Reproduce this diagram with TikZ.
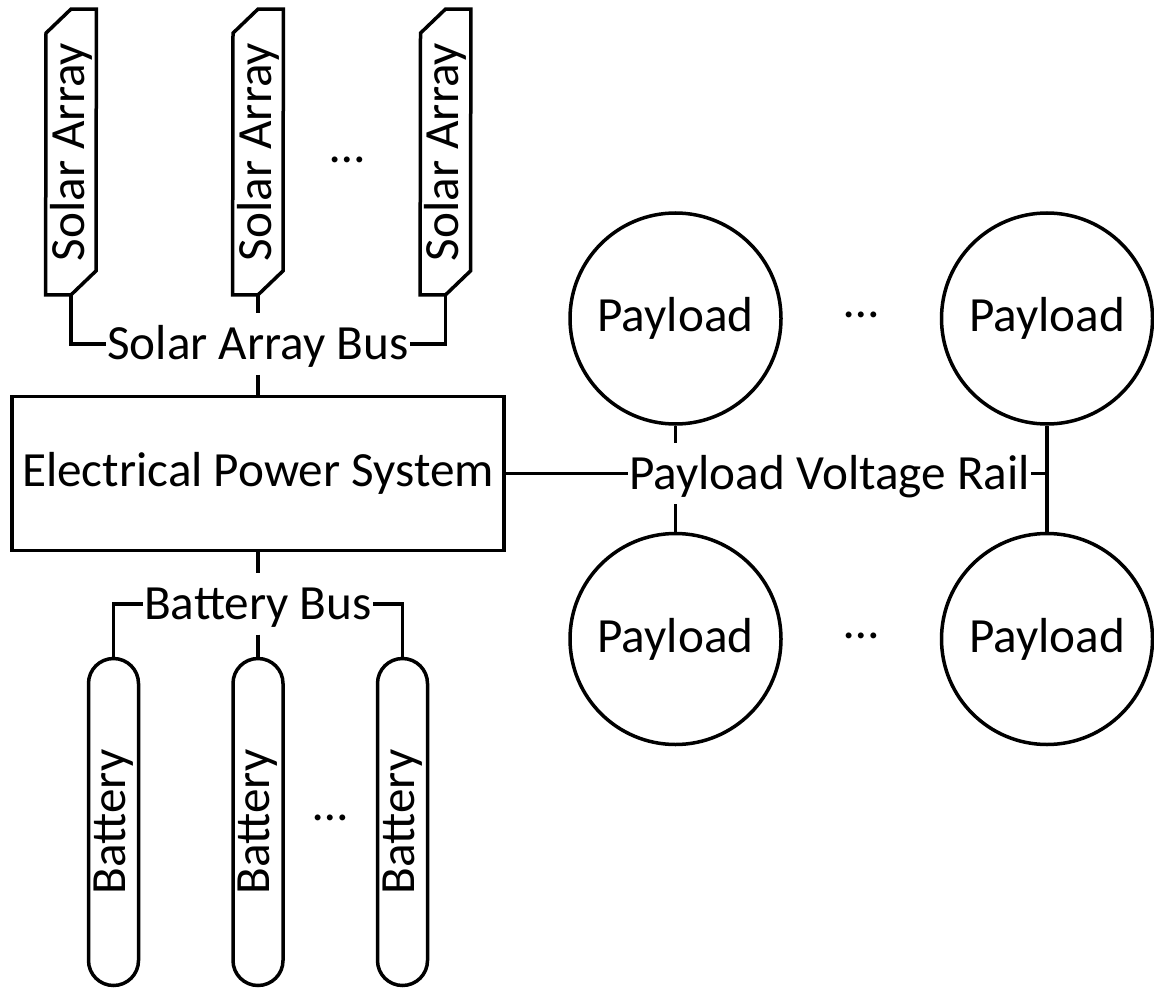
\documentclass[tikz,border=0pt]{standalone}
\usepackage{fontspec}
\setmainfont{Carlito}
\usepackage{graphicx}
\usetikzlibrary{positioning}

\begin{document}
\begin{tikzpicture}[
	x=0.5pt, y=-0.5pt,
	every node/.style={font=\fontsize{24.6}{29}\selectfont},
	wire/.style={line width=1.75pt},
	epsbox/.style={draw, line width=1.75pt, minimum width=246pt, minimum height=77pt, inner sep=0pt},
	solar/.style={minimum width=25pt, minimum height=142.5pt, inner sep=0pt},
	battery/.style={draw, line width=1.75pt, rounded corners=12.5pt, minimum width=25pt, minimum height=163.5pt, inner sep=0pt},
	payload/.style={draw, circle, line width=1.75pt, minimum size=105.5pt, inner sep=0pt},
	bus/.style={inner xsep=0.5pt, inner ysep=1.5pt, text height=21.5pt, text depth=5.75pt},
	node distance=10pt
	]
	\useasboundingbox (0,0) rectangle (1154,989);
	
	% --- EPS ---
	\node[epsbox] (eps) at (258,473.5) {Electrical Power System};
	
	% --- Solar arrays ---
	\node[solar] (sa1) at (71,152) {\rotatebox{90}{Solar Array}};
	\node[solar] (sa2) at (258,152) {\rotatebox{90}{Solar Array}};
	\node[solar] (sa3) at (445.5,152) {\rotatebox{90}{Solar Array}};
	\node (sadots) at (347,160) {…};
	\draw[wire] (sa1.south west) -- (sa1.south) -- ++(25,-24) -- (sa1.north east) -- (sa1.north) -- ++(-25,24) -- cycle;
	\draw[wire] (sa2.south west) -- (sa2.south) -- ++(25,-24) -- (sa2.north east) -- (sa2.north) -- ++(-25,24) -- cycle;
	\draw[wire] (sa3.south west) -- (sa3.south) -- ++(25,-24) -- (sa3.north east) -- (sa3.north) -- ++(-25,24) -- cycle;
	
	% --- Batteries ---
	\node[battery] (bat1) at (113.5,822) {\rotatebox{90}{Battery}};
	\node[battery] (bat2) at (258,822) {\rotatebox{90}{Battery}};
	\node[battery] (bat3) at (402.5,822) {\rotatebox{90}{Battery}};
	\node (batdots) at (330,818) {…};
	
	% --- Buses ---
	\node[bus, above=10pt of eps] (sabus) {Solar Array Bus};
	\node[bus, below=10.5pt of eps] (batbus) {Battery Bus};
	\node[bus, right=61pt of eps] (rail) {Payload Voltage Rail};
	
	% --- Payloads ---
	\node[payload] (pl1) at (675.5,318.5) {Payload};
	\node[payload] (pl2) at (675.5,639) {Payload};
	\node[payload] (pr1) at (1047,318.5) {Payload};
	\node[payload] (pr2) at (1047,639) {Payload};
	\node (pdots1) at (861,315) {…};
	\node (pdots2) at (861,635.5) {…};
	
	% --- Wires ---
	\draw[wire] (sa1.south) |- (sabus.west);
	\draw[wire] (sabus.east) -| (sa3.south);
	\draw[wire] (sa2.south) -- (sabus.north);
	\draw[wire] (sabus.south) -- (eps.north);
	
	\draw[wire] (eps.south) -- (batbus.north);
	\draw[wire] (batbus.west) -| (bat1.north);
	\draw[wire] (batbus.east) -| (bat3.north);
	\draw[wire] (batbus.south) -- (bat2.north);
	
	\draw[wire] (eps.east) -- (rail.west);
	\draw[wire] (pl1.south) -- (pl1.south |- rail.north);
	\draw[wire] (pl2.north) -- (pl2.north |- rail.south);
	\draw[wire] (pr1.south) -- (pr2.north);
	\draw[wire] (rail.east) -- (rail.east -| pr1.south);
	
\end{tikzpicture}
\end{document}
